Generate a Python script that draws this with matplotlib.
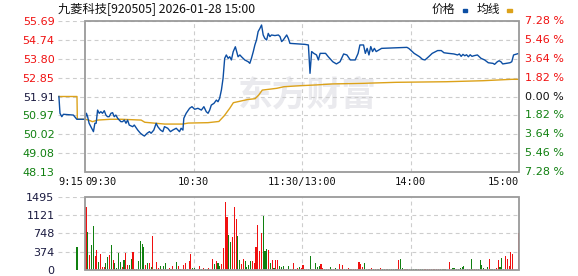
import matplotlib
matplotlib.use("Agg")
import matplotlib.pyplot as plt
from matplotlib.patches import Rectangle
from matplotlib.transforms import blended_transform_factory

# ---- data ----
TITLE = "九菱科技[920505] 2026-01-28 15:00"
PREV_CLOSE = 51.91

PRICE_TICKS = [55.69, 54.74, 53.80, 52.85, 51.91, 50.97, 50.02, 49.08, 48.13]
PCT_LABELS = ["7.28 %", "5.46 %", "3.64 %", "1.82 %", "0.00 %",
              "1.82 %", "3.64 %", "5.46 %", "7.28 %"]
VOL_TICKS = [0, 374, 748, 1121, 1495]

# minutes from 09:30 (lunch break removed), pre-market is negative
PRICE_MIN = [-14.5, -13.9, -12.9, -12.0, -6.5, -4.6, 0,
             0.7, 1.3, 2.2, 4.1, 4.6, 5.4, 6.1, 6.9, 7.8, 8.7, 9.6, 10.6,
             11.5, 12.4, 13.3, 14.3, 15.2, 16.1, 17.0, 18.0, 18.9, 19.8,
             20.7, 21.7, 22.6, 23.5, 24.4, 26.3, 27.2, 29.1, 30.6, 31.9,
             32.8, 34.3, 35.6, 36.5, 38.0, 39.3, 40.2, 41.7, 43.0, 43.9,
             45.7, 47.2, 48.5, 50.4, 52.2, 53.1, 54.1, 54.6, 55.9, 57.8,
             59.1, 60.6, 62.4, 64.3, 65.7, 67.0, 68.0, 68.9, 69.8, 71.3,
             72.6, 73.5, 74.4, 75.4, 76.3, 77.2, 78.1, 79.1, 80.0, 80.9,
             81.9, 83.1, 84.6, 85.6, 86.5, 87.4, 88.3, 90.2, 91.1, 92.0,
             93.0, 93.9, 94.8, 95.7, 96.7, 97.6, 98.5, 99.4, 100.4, 101.3,
             102.2, 103.1, 105.0, 106.9, 107.8, 108.7, 109.6, 111.5, 112.4,
             113.3, 117.0, 121.6, 123.5, 124.4, 125.3, 126.5, 128.0, 129.0,
             130.0, 133.0, 134.5, 137.0, 139.0, 141.0, 143.0, 144.8, 146.7,
             149.4, 151.0, 152.0, 154.0, 155.0, 156.0, 157.0, 158.0, 159.0,
             160.0, 161.0, 163.0, 164.0, 170.0, 178.0, 179.0, 180.0, 182.0,
             185.0, 186.6, 188.0, 190.0, 192.0, 195.0, 197.0, 198.5, 201.0,
             204.0, 206.0, 207.0, 208.0, 209.0, 210.0, 211.0, 212.0, 213.0,
             214.0, 215.0, 217.0, 219.0, 221.0, 223.0, 225.6, 226.5, 228.0,
             229.0, 230.0, 231.0, 233.0, 235.0, 236.0, 237.0, 239.0, 240.0]
PRICE_VAL = [51.91, 51.07, 50.90, 51.02, 50.98, 50.77, 50.77,
             51.07, 50.93, 50.57, 50.23, 50.15, 50.57, 50.57, 51.23, 51.07,
             51.15, 51.07, 51.20, 50.98, 50.90, 50.90, 51.07, 51.10, 50.90,
             50.98, 50.82, 50.73, 50.65, 50.65, 50.73, 50.57, 50.73, 50.48,
             50.40, 50.48, 50.23, 50.07, 49.98, 49.93, 50.07, 50.15, 50.07,
             50.23, 50.57, 50.40, 50.23, 50.15, 50.40, 50.32, 50.15, 50.23,
             50.32, 50.15, 50.32, 50.23, 50.82, 51.07, 51.32, 51.40, 51.27,
             51.32, 51.23, 51.40, 51.15, 51.07, 51.23, 51.48, 51.57, 51.73,
             51.65, 51.82, 52.24, 52.82, 53.82, 53.99, 53.82, 53.90, 53.74,
             54.15, 54.40, 53.90, 53.99, 53.90, 53.82, 53.74, 53.65, 53.57,
             53.82, 54.15, 54.49, 54.74, 55.16, 55.32, 55.49, 54.99, 54.82,
             54.74, 55.07, 54.91, 54.99, 54.96, 54.99, 54.91, 54.66, 54.74,
             54.99, 54.82, 54.57, 54.55, 54.52, 54.49, 53.07, 54.16, 54.07,
             53.99, 53.74, 54.07, 54.07, 53.90, 53.65, 53.54, 53.65, 54.04,
             53.99, 53.74, 53.74, 54.07, 54.49, 54.49, 54.07, 54.32, 53.99,
             54.41, 54.16, 54.32, 54.16, 54.27, 54.32, 54.34, 54.37, 54.32,
             54.24, 54.07, 53.90, 53.77, 53.74, 53.90, 54.07, 54.21, 54.21,
             54.10, 54.07, 54.04, 53.99, 54.04, 53.92, 54.02, 53.95, 54.00,
             53.90, 54.00, 53.92, 53.95, 53.99, 53.82, 53.74, 53.60, 53.57,
             53.52, 53.65, 53.70, 53.65, 53.54, 53.57, 53.60, 53.65, 53.99,
             54.04, 54.07]

AVG_MIN = [-14.5, -4.5, -4.3, 0, 2, 4, 7, 14, 20, 31, 33, 44, 54, 57, 68,
           74, 77, 80, 82, 84, 86, 90, 94, 96, 98, 106, 110, 119, 128, 137,
           154, 172, 200, 220, 236, 240]
AVG_VAL = [51.91, 51.91, 50.77, 50.77, 50.73, 50.65, 50.73, 50.77, 50.77,
           50.73, 50.62, 50.53, 50.53, 50.58, 50.60, 50.66, 50.95, 51.32,
           51.60, 51.64, 51.68, 51.76, 51.80, 51.98, 52.23, 52.32, 52.40,
           52.45, 52.49, 52.54, 52.57, 52.62, 52.65, 52.70, 52.77, 52.77]

AUCTION_MIN = -5
AUCTION_VOL = 470

VOL = [1285, 775, 306, 510, 898, 286, 408, 163, 326, 68,
       68, 143, 265, 306, 510, 204, 143, 41, 347, 163,
       61, 204, 347, 102, 102, 224, 367, 20, 20, 184,
       592, 530, 469, 102, 143, 143, 61, 694, 20, 163,
       41, 82, 20, 82, 143, 20, 41, 20, 82, 0,
       163, 82, 20, 0, 102, 143, 20, 184, 326, 41,
       41, 0, 20, 82, 20, 41, 20, 20, 41, 0,
       224, 122, 184, 143, 82, 122, 449, 1387, 1081, 714,
       571, 673, 1285, 1040, 694, 204, 122, 224, 184, 61,
       102, 184, 184, 143, 469, 918, 388, 755, 1102, 388,
       428, 408, 143, 204, 41, 204, 204, 82, 61, 82,
       20, 20, 82, 20, 20, 143, 20, 41, 61, 41,
       102, 20, 20, 20, 286, 20, 20, 143, 61, 82,
       122, 41, 20, 20, 20, 61, 20, 20, 41, 20,
       122, 20, 102, 20, 20, 41, 20, 20, 20, 20,
       20, 163, 122, 61, 143, 20, 20, 20, 41, 20,
       20, 20, 20, 41, 20, 20, 20, 20, 20, 20,
       20, 20, 20, 204, 224, 41, 20, 20, 20, 20,
       20, 20, 20, 20, 20, 20, 20, 20, 20, 20,
       20, 20, 20, 20, 20, 20, 20, 20, 20, 20,
       0, 163, 20, 41, 41, 20, 20, 41, 61, 82,
       20, 20, 20, 224, 20, 20, 20, 20, 204, 102,
       41, 20, 61, 224, 20, 20, 20, 41, 204, 61,
       245, 20, 286, 224, 82, 367, 326, 0, 0, 755]
# u = price up (red), d = price down (green)
VOL_DIR = ("ududduuduu" "uddududddd" "uduudduudd" "dddudududu"
           "ududduuduu" "duuuuuduud" "duuududduu" "ududduuuud"
           "duuudduudd" "dduuuuuudd" "dududuuddd" "uddddududu"
           "ududdduddd" "uudduddudu" "ududuuduuu" "uuuudduuud"
           "uududduddd" "dddudduudu" "ddddudduuu" "uuuuuudddd"
           "dudddddddd" "dduduuuddd" "dududdduud" "dduuuuuuuu")

# ---- layout (pixels of the 578x276 picture) ----
W, H = 578, 276
BLUE, GOLD = "#0c4ea3", "#dca21a"
RED, GREEN, NAVY = "#f01010", "#108010", "#1a1a40"
FRAME, GRID = "#9a9a9a", "#cdcdcd"


def fx(px):
    return px / W


def fy(py):
    return 1 - py / H


fig = plt.figure(figsize=(W / 100, H / 100), dpi=100)
fig.patch.set_facecolor("white")
ax = fig.add_axes([fx(58), fy(172), fx(519) - fx(58), fy(21) - fy(172)])
axv = fig.add_axes([fx(58), fy(270), fx(519) - fx(58), fy(197) - fy(270)])

dash = (0, (3.5, 3))

# main price panel
ax.set_xlim(-15, 240)
ax.set_ylim(PRICE_TICKS[-1], PRICE_TICKS[0])
for s in ax.spines.values():
    s.set_visible(False)
ax.hlines(PRICE_TICKS, -15, 240, colors=GRID, linestyles=dash, lw=0.8, zorder=1)
ax.vlines([60, 120, 180], PRICE_TICKS[-1], PRICE_TICKS[0], colors=GRID,
          linestyles=dash, lw=0.8, zorder=1)
ax.add_patch(Rectangle((0, PRICE_TICKS[-1]), 240, PRICE_TICKS[0] - PRICE_TICKS[-1],
                       fill=False, ec=FRAME, lw=1.3, zorder=4, clip_on=False))
ax.plot(AVG_MIN, AVG_VAL, color=GOLD, lw=1.0, zorder=3)
ax.plot(PRICE_MIN, PRICE_VAL, color=BLUE, lw=1.0, zorder=3)

ax.set_xticks([])
ax.set_yticks(PRICE_TICKS)
ax.set_yticklabels([f"{p:.2f}" for p in PRICE_TICKS])
ax.tick_params(axis="y", length=0, pad=2.5, labelsize=8)
for lab, p in zip(ax.get_yticklabels(), PRICE_TICKS):
    lab.set_color(RED if p > PREV_CLOSE else (GREEN if p < PREV_CLOSE else NAVY))

rt = blended_transform_factory(ax.transAxes, ax.transData)
for lab, p in zip(PCT_LABELS, PRICE_TICKS):
    c = RED if p > PREV_CLOSE else (GREEN if p < PREV_CLOSE else "#111111")
    ax.text(1.013, p, lab, transform=rt, ha="left", va="center",
            fontsize=8, color=c)

# watermark
ax.text(fx(307), fy(95), "东方财富", transform=fig.transFigure,
        ha="center", va="center", fontsize=25, fontweight="bold",
        family=["Noto Sans CJK SC"], color="#eaeaee", zorder=0)

# time labels
tt = blended_transform_factory(ax.transData, fig.transFigure)
for m, lab, ha in [(-15, "9:15", "left"), (0, "09:30", "left"),
                   (60, "10:30", "center"), (120, "11:30/13:00", "center"),
                   (180, "14:00", "center"), (240, "15:00", "right")]:
    ax.text(m, fy(182), lab, transform=tt, ha=ha, va="center",
            fontsize=7.5, family="DejaVu Sans Mono", color="#111111")

# volume panel
axv.set_xlim(-15, 240)
axv.set_ylim(0, VOL_TICKS[-1])
for s in axv.spines.values():
    s.set_visible(False)
axv.hlines(VOL_TICKS[1:-1], -15, 240, colors=GRID, linestyles=dash, lw=0.8, zorder=1)
axv.hlines([VOL_TICKS[-1]], -15, 0, colors=GRID, linestyles=dash, lw=0.8, zorder=1)
axv.vlines([60, 120, 180], 0, VOL_TICKS[-1], colors=GRID, linestyles=dash,
           lw=0.8, zorder=1)
axv.add_patch(Rectangle((0, 0), 240, VOL_TICKS[-1], fill=False, ec=FRAME,
                        lw=1.3, zorder=4, clip_on=False))
xs = [i + 0.5 for i in range(len(VOL))]
cols = [RED if d == "u" else GREEN for d in VOL_DIR]
axv.bar(xs, VOL, width=0.6, color=cols, lw=0, zorder=3)
axv.bar([AUCTION_MIN + 0.5], [AUCTION_VOL], width=0.6, color=GREEN, lw=0, zorder=3)
axv.set_xticks([])
axv.set_yticks(VOL_TICKS)
axv.tick_params(axis="y", length=0, pad=2.5, labelsize=8, labelcolor=NAVY)

# title and legend
fig.text(fx(58), fy(9), TITLE, ha="left", va="center", fontsize=8.8,
         family=["Noto Sans CJK SC", "DejaVu Sans"], color="#111111")
fig.text(fx(432), fy(9), "价格", ha="left", va="center", fontsize=8.5,
         family=["Noto Sans CJK SC"], color="#111111")
fig.patches.append(Rectangle((fx(463), fy(12)), 4 / W, 3 / H, color=BLUE,
                             transform=fig.transFigure, figure=fig))
fig.text(fx(477), fy(9), "均线", ha="left", va="center", fontsize=8.5,
         family=["Noto Sans CJK SC"], color="#111111")
fig.patches.append(Rectangle((fx(507), fy(12)), 5 / W, 3 / H, color=GOLD,
                             transform=fig.transFigure, figure=fig))

fig.savefig("out.png", dpi=100)
